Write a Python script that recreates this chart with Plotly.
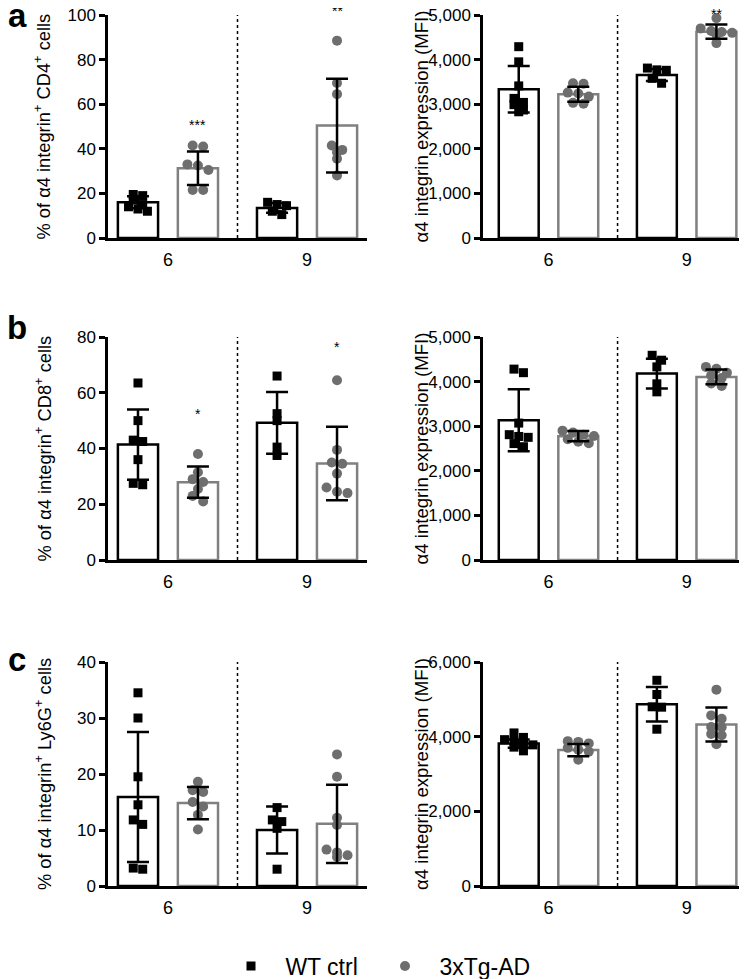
import plotly.graph_objects as go

# ---------------- data ----------------
groups = ["6", "9"]

# panel a: CD4+
cd4_pct_wt = [[19.5, 19, 17, 15, 14, 13, 12], [16, 15, 14.5, 12, 10.5]]
cd4_pct_tg = [[41.5, 41, 33, 32.5, 30.5, 21.5, 21.5], [88.5, 69.5, 64.5, 41.5, 39.5, 38.5, 35.5, 28]]
cd4_pct_wt_mean = [16, 13.5]
cd4_pct_wt_sd = [2.7, 2.2]
cd4_pct_tg_mean = [31.3, 50.4]
cd4_pct_tg_sd = [7.5, 21]
cd4_pct_stars = ["***", "**"]

cd4_mfi_wt = [[4290, 3950, 3410, 3130, 3040, 2990, 2870, 2830], [3810, 3770, 3760, 3580, 3470]]
cd4_mfi_tg = [[3470, 3460, 3260, 3240, 3170, 3030, 3010], [4930, 4700, 4640, 4620, 4600, 4560, 4370]]
cd4_mfi_wt_mean = [3336, 3657]
cd4_mfi_wt_sd = [520, 135]
cd4_mfi_tg_mean = [3224, 4627]
cd4_mfi_tg_sd = [170, 160]
cd4_mfi_stars = ["", "**"]

# panel b: CD8+
cd8_pct_wt = [[63.5, 50, 43, 42.5, 36, 27.5, 27], [66, 52.5, 50, 40.5, 37.5]]
cd8_pct_tg = [[38, 31.5, 29, 28, 25.5, 23, 21], [64.5, 39.5, 35, 34.5, 31, 26, 24.5, 24]]
cd8_pct_wt_mean = [41.4, 49.2]
cd8_pct_wt_sd = [12.6, 11.1]
cd8_pct_tg_mean = [27.9, 34.6]
cd8_pct_tg_sd = [5.6, 13.2]
cd8_pct_stars = ["*", "*"]

cd8_mfi_wt = [[4280, 4200, 3070, 2810, 2770, 2750, 2610, 2540], [4590, 4480, 4330, 3950, 3770]]
cd8_mfi_tg = [[2900, 2860, 2810, 2780, 2710, 2650, 2620], [4330, 4290, 4200, 4140, 4080, 3960, 3900]]
cd8_mfi_wt_mean = [3134, 4179]
cd8_mfi_wt_sd = [694, 336]
cd8_mfi_tg_mean = [2776, 4104]
cd8_mfi_tg_sd = [115, 165]
cd8_mfi_stars = ["", ""]

# panel c: Ly6G+
ly6g_pct_wt = [[34.5, 30, 19.5, 14.5, 11.8, 11, 3.2, 3], [14, 11.8, 11.5, 10.3, 3]]
ly6g_pct_tg = [[18.6, 17.1, 16.8, 15, 14.2, 12.7, 10.1], [23.5, 19.5, 12.2, 10.9, 6.5, 6, 5.5, 5.2]]
ly6g_pct_wt_mean = [15.9, 10]
ly6g_pct_wt_sd = [11.6, 4.2]
ly6g_pct_tg_mean = [14.8, 11.1]
ly6g_pct_tg_sd = [2.9, 7]
ly6g_pct_stars = ["", ""]

ly6g_mfi_wt = [[4100, 3980, 3920, 3880, 3830, 3780, 3720, 3620], [5510, 5130, 4800, 4790, 4200]]
ly6g_mfi_tg = [[3880, 3860, 3820, 3700, 3650, 3600, 3380], [5260, 4570, 4480, 4260, 4250, 4070, 4040, 3800]]
ly6g_mfi_wt_mean = [3816, 4868]
ly6g_mfi_wt_sd = [110, 460]
ly6g_mfi_tg_mean = [3640, 4324]
ly6g_mfi_tg_sd = [165, 455]
ly6g_mfi_stars = ["", ""]

series_names = ["WT ctrl", "3xTg-AD"]

# ---------------- layout / style ----------------
W, H = 747, 979
OFF = 8  # page body margin in the browser
FONT = "Arial, Liberation Sans, Helvetica, sans-serif"
BLACK = "#000000"
GRAY_LINE = "#808080"
GRAY_DOT = "#6e6e6e"
GROUP_STEP = 2.32
BAR_W = 0.67
NBSP = "\u00a0"


def py(px):
    return 1 - (px - OFF) / H


def px_x(px):
    return (px - OFF) / W


# panel geometry (page pixels): (left, right, top, bottom)
panels = [
    dict(wt=cd4_pct_wt, tg=cd4_pct_tg, wm=cd4_pct_wt_mean, ws=cd4_pct_wt_sd, tm=cd4_pct_tg_mean,
         ts=cd4_pct_tg_sd, stars=cd4_pct_stars, ymax=100, dtick=20, fmt="d", tsize=18.3,
         title="% of \u03b14 integrin<sup>+</sup> CD4<sup>+</sup> cells",
         box=(108, 367, 15, 238), xr=[-0.5, 3.82], star_y=[50.5, 102], letter="a"),
    dict(wt=cd4_mfi_wt, tg=cd4_mfi_tg, wm=cd4_mfi_wt_mean, ws=cd4_mfi_wt_sd, tm=cd4_mfi_tg_mean,
         ts=cd4_mfi_tg_sd, stars=cd4_mfi_stars, ymax=5000, dtick=1000, fmt=",d", tsize=18.6,
         title="\u03b14 integrin expression (MFI)",
         box=(483, 745, 15, 238), xr=[-0.6, 3.8], star_y=[0, 5030], letter=None),
    dict(wt=cd8_pct_wt, tg=cd8_pct_tg, wm=cd8_pct_wt_mean, ws=cd8_pct_wt_sd, tm=cd8_pct_tg_mean,
         ts=cd8_pct_tg_sd, stars=cd8_pct_stars, ymax=80, dtick=20, fmt="d", tsize=18.3,
         title="% of \u03b14 integrin<sup>+</sup> CD8<sup>+</sup> cells",
         box=(108, 367, 337, 560), xr=[-0.5, 3.82], star_y=[52.5, 76.5], letter="b"),
    dict(wt=cd8_mfi_wt, tg=cd8_mfi_tg, wm=cd8_mfi_wt_mean, ws=cd8_mfi_wt_sd, tm=cd8_mfi_tg_mean,
         ts=cd8_mfi_tg_sd, stars=cd8_mfi_stars, ymax=5000, dtick=1000, fmt=",d", tsize=18.6,
         title="\u03b14 integrin expression (MFI)",
         box=(483, 745, 337, 560), xr=[-0.6, 3.8], star_y=[0, 0], letter=None),
    dict(wt=ly6g_pct_wt, tg=ly6g_pct_tg, wm=ly6g_pct_wt_mean, ws=ly6g_pct_wt_sd, tm=ly6g_pct_tg_mean,
         ts=ly6g_pct_tg_sd, stars=ly6g_pct_stars, ymax=40, dtick=10, fmt="d", tsize=18.3,
         title="% of \u03b14 integrin<sup>+</sup> Ly6G<sup>+</sup> cells",
         box=(108, 367, 662, 886), xr=[-0.5, 3.82], star_y=[0, 0], letter="c"),
    dict(wt=ly6g_mfi_wt, tg=ly6g_mfi_tg, wm=ly6g_mfi_wt_mean, ws=ly6g_mfi_wt_sd, tm=ly6g_mfi_tg_mean,
         ts=ly6g_mfi_tg_sd, stars=ly6g_mfi_stars, ymax=6000, dtick=2000, fmt=",d", tsize=18.6,
         title="\u03b14 integrin expression (MFI)",
         box=(483, 745, 662, 886), xr=[-0.6, 3.8], star_y=[0, 0], letter=None),
]
letter_pos = {"a": 15, "b": 327, "c": 659}


def swarm(values, ypx_per_unit, xpx_per_unit, size):
    """Deterministic bee-swarm offsets (in x data units)."""
    order = sorted(range(len(values)), key=lambda i: -values[i])
    offs = [0.0] * len(values)
    rows = []
    for i in order:
        if rows and abs(values[rows[-1][0]] - values[i]) * ypx_per_unit < size * 0.6:
            rows[-1].append(i)
        else:
            rows.append([i])
    for row in rows:
        n = len(row)
        for k, i in enumerate(row):
            offs[i] = (k - (n - 1) / 2) * size * 1.05 / xpx_per_unit
    return offs


fig = go.Figure()
shapes, annotations = [], []
layout_axes = {}

for p_i, p in enumerate(panels):
    n = p_i + 1
    xa = "x" if n == 1 else f"x{n}"
    ya = "y" if n == 1 else f"y{n}"
    L, R, T, B = p["box"]
    ypu = (B - T) / p["ymax"]
    xpu = (R - L) / (p["xr"][1] - p["xr"][0])

    for s_i, (pts, means, sds, line_c, dot_c, sym, msize) in enumerate([
        (p["wt"], p["wm"], p["ws"], BLACK, BLACK, "square", 9),
        (p["tg"], p["tm"], p["ts"], GRAY_LINE, GRAY_DOT, "circle", 10),
    ]):
        pos = [g * GROUP_STEP + s_i for g in range(len(groups))]
        fig.add_trace(go.Bar(
            x=pos, y=means, width=BAR_W, xaxis=xa, yaxis=ya, showlegend=False,
            marker=dict(color="white", line=dict(color=line_c, width=2.5)), hoverinfo="skip"))
        xs, ys = [], []
        for g, vals in enumerate(pts):
            offs = swarm(vals, ypu, xpu, msize)
            xs += [pos[g] + o for o in offs]
            ys += vals
        fig.add_trace(go.Scatter(
            x=xs, y=ys, mode="markers", xaxis=xa, yaxis=ya, cliponaxis=False,
            name=NBSP + series_names[s_i], showlegend=(p_i == 0), legendrank=s_i,
            marker=dict(symbol=sym, size=msize, color=dot_c, line=dict(width=0))))
        fig.add_trace(go.Scatter(
            x=pos, y=means, mode="markers", xaxis=xa, yaxis=ya, showlegend=False,
            marker=dict(size=1, color="rgba(0,0,0,0)"), hoverinfo="skip",
            error_y=dict(type="data", array=sds, visible=True, color=BLACK, thickness=2.5, width=11)))
        # significance stars (3xTg-AD only)
        if s_i == 1:
            for g, st in enumerate(p["stars"]):
                if st:
                    page_y = B - p["star_y"][g] * ypu
                    annotations.append(dict(
                        x=pos[g], y=py(page_y), xref=xa, yref="paper",
                        text=st, showarrow=False, yanchor="middle",
                        font=dict(size=14, color=BLACK, family=FONT)))

    layout_axes["xaxis" if n == 1 else f"xaxis{n}"] = dict(
        domain=[px_x(L), px_x(R)], range=p["xr"], anchor=ya, automargin=False,
        showline=True, linewidth=2.5, linecolor=BLACK, showgrid=False, zeroline=False,
        tickmode="array", tickvals=[g * GROUP_STEP + 0.5 for g in range(len(groups))],
        ticktext=groups, ticks="", tickfont=dict(size=18, color=BLACK, family=FONT),
        ticklabelstandoff=4, ticklabeloverflow="allow", fixedrange=True)
    layout_axes["yaxis" if n == 1 else f"yaxis{n}"] = dict(
        domain=[py(B), py(T)], range=[0, p["ymax"]], anchor=xa, dtick=p["dtick"],
        tickformat=p["fmt"], showline=True, linewidth=2.5, linecolor=BLACK, automargin=False,
        showgrid=False, zeroline=False, ticks="outside", ticklen=6, tickwidth=2.5,
        ticklabeloverflow="allow",
        tickcolor=BLACK, tickfont=dict(size=17, color=BLACK, family=FONT), fixedrange=True)

    # dotted divider between age groups
    shapes.append(dict(type="line", xref=xa, yref=f"{ya} domain",
                       x0=(1 + GROUP_STEP) / 2, x1=(1 + GROUP_STEP) / 2, y0=0, y1=1,
                       line=dict(color=BLACK, width=1.5, dash="dot")))
    # y-axis title
    tx = 43 if L < 300 else 421
    annotations.append(dict(
        x=px_x(tx), y=py((T + B) / 2), xref="paper", yref="paper", text=p["title"],
        textangle=-90, showarrow=False, xanchor="center", yanchor="middle",
        font=dict(size=p["tsize"], color=BLACK, family=FONT)))
    if p["letter"]:
        annotations.append(dict(
            x=px_x(17), y=py(letter_pos[p["letter"]]), xref="paper", yref="paper",
            text=f"<b>{p['letter']}</b>", showarrow=False, xanchor="center", yanchor="middle",
            font=dict(size=33, color=BLACK, family=FONT)))

fig.update_layout(
    width=W, height=H, margin=dict(l=0, r=0, t=0, b=0, autoexpand=False),
    paper_bgcolor="white", plot_bgcolor="white", barmode="overlay",
    font=dict(family=FONT, color=BLACK),
    shapes=shapes, annotations=annotations,
    legend=dict(orientation="h", x=px_x(223), xanchor="left", y=py(966), yanchor="middle",
                font=dict(size=23, color=BLACK, family=FONT), itemwidth=46,
                entrywidth=93, entrywidthmode="pixels",
                bgcolor="rgba(0,0,0,0)"),
    **layout_axes)

fig.write_html("out.html")
